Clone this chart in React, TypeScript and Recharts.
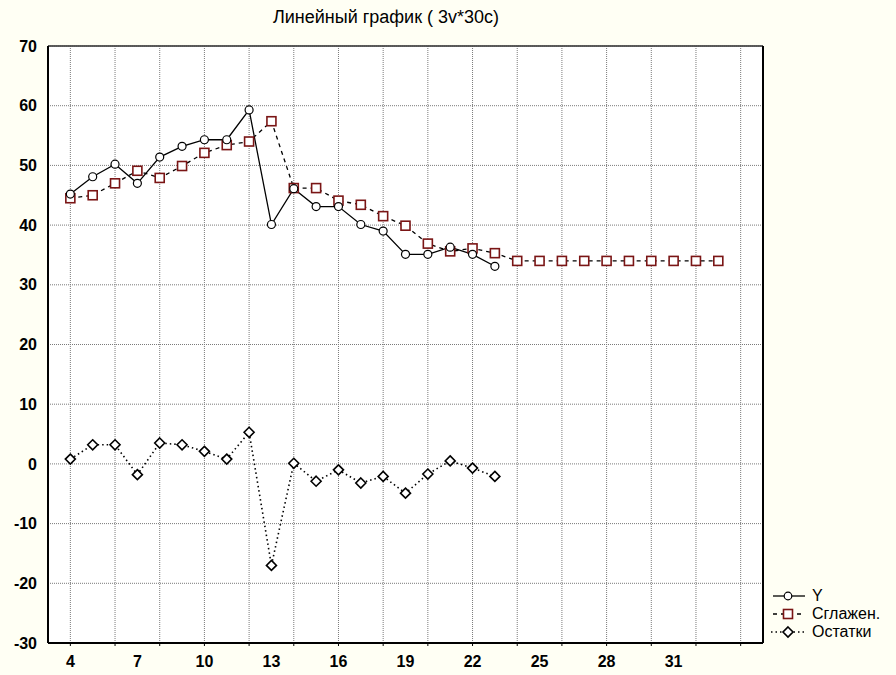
import React from "react"
import {
  LineChart,
  Line,
  XAxis,
  YAxis,
  CartesianGrid,
  ReferenceArea,
  ReferenceLine,
  Legend,
} from "recharts"

// case numbers on the x axis
const cases = [
  4, 5, 6, 7, 8, 9, 10, 11, 12, 13, 14, 15, 16, 17, 18, 19, 20, 21, 22, 23,
  24, 25, 26, 27, 28, 29, 30, 31, 32, 33,
]

// Y
const yValues = [
  45.2, 48.1, 50.2, 47.0, 51.4, 53.2, 54.3, 54.3, 59.3, 40.1, 46.1, 43.1, 43.1,
  40.1, 39.0, 35.1, 35.1, 36.3, 35.1, 33.1,
]

// Сглажен.
const smoothed = [
  44.5, 45.0, 47.0, 49.1, 47.9, 49.9, 52.1, 53.4, 54.0, 57.4, 46.2, 46.2, 44.1,
  43.4, 41.5, 39.9, 36.9, 35.6, 36.1, 35.3, 34.0, 34.0, 34.0, 34.0, 34.0, 34.0,
  34.0, 34.0, 34.0, 34.0,
]

// Остатки
const residuals = [
  0.8, 3.2, 3.2, -1.8, 3.5, 3.2, 2.1, 0.8, 5.3, -17.0, 0.1, -2.9, -1.0, -3.2,
  -2.1, -4.9, -1.7, 0.5, -0.7, -2.1,
]

const xGridTicks = [4, 6, 8, 10, 12, 14, 16, 18, 20, 22, 24, 26, 28, 30, 32, 34]
const xLabelTicks = [4, 7, 10, 13, 16, 19, 22, 25, 28, 31]
const yTicks = [-30, -20, -10, 0, 10, 20, 30, 40, 50, 60, 70]

const chartData = cases.map((c, i) => ({
  x: c,
  y: yValues[i] ?? null,
  s: smoothed[i] ?? null,
  r: residuals[i] ?? null,
}))

const FONT = "'Liberation Sans', Arial, sans-serif"
const SQUARE_RED = "#7a1515"

const CircleDot = (props: any) => {
  const { cx, cy, value } = props
  if (value == null || cx == null || cy == null) return <g />
  return <circle cx={cx} cy={cy} r={4} fill="#fff" stroke="#000" strokeWidth={1.2} />
}

const SquareDot = (props: any) => {
  const { cx, cy, value } = props
  if (value == null || cx == null || cy == null) return <g />
  return (
    <rect
      x={cx - 4.5}
      y={cy - 4.5}
      width={9}
      height={9}
      fill="#fff"
      stroke={SQUARE_RED}
      strokeWidth={1.6}
    />
  )
}

const DiamondDot = (props: any) => {
  const { cx, cy, value } = props
  if (value == null || cx == null || cy == null) return <g />
  const d = 5
  return (
    <polygon
      points={`${cx},${cy - d} ${cx + d},${cy} ${cx},${cy + d} ${cx - d},${cy}`}
      fill="#fff"
      stroke="#000"
      strokeWidth={1.6}
    />
  )
}

const legendItems = [
  { name: "Y", kind: "y" },
  { name: "Сглажен.", kind: "s" },
  { name: "Остатки", kind: "r" },
]

const LegendBox = () => (
  <div style={{ fontFamily: FONT, fontSize: 16, color: "#000" }}>
    {legendItems.map((it) => (
      <div key={it.kind} style={{ display: "flex", alignItems: "center", height: 18 }}>
        <svg width={38} height={18}>
          {it.kind === "y" && (
            <>
              <line x1={4} y1={9} x2={36} y2={9} stroke="#000" strokeWidth={1.3} />
              <circle cx={19} cy={9} r={3.8} fill="#fff" stroke="#000" strokeWidth={1.2} />
            </>
          )}
          {it.kind === "s" && (
            <>
              <line x1={4} y1={9} x2={36} y2={9} stroke="#000" strokeWidth={1.3} strokeDasharray="4 4" />
              <rect x={14.5} y={4.5} width={9} height={9} fill="#fff" stroke={SQUARE_RED} strokeWidth={1.6} />
            </>
          )}
          {it.kind === "r" && (
            <>
              <line x1={2} y1={9} x2={36} y2={9} stroke="#000" strokeWidth={1.5} strokeDasharray="1.5 3" />
              <polygon points="19,4 24,9 19,14 14,9" fill="#fff" stroke="#000" strokeWidth={1.6} />
            </>
          )}
        </svg>
        <span style={{ marginLeft: 5 }}>{it.name}</span>
      </div>
    ))}
  </div>
)

const App = () => {
  return (
    <div
      style={{
        position: "absolute",
        left: 0,
        top: 0,
        width: 896,
        height: 675,
        background: "#fffff4",
      }}
    >
      <div
        style={{
          position: "absolute",
          left: 0,
          top: 7,
          width: 772,
          textAlign: "center",
          fontFamily: FONT,
          fontSize: 18,
          color: "#000",
        }}
      >
        Линейный график ( 3v*30c)
      </div>
      <LineChart
        width={896}
        height={675}
        data={chartData}
        margin={{ top: 46, right: 133, left: 0, bottom: 0 }}
      >
        {/* Grid Lines */}
        <CartesianGrid stroke="#7a7a7a" strokeDasharray="1 1" fill="#fff" />
        {/* Axes */}
        <XAxis
          dataKey="x"
          type="number"
          domain={[3, 35]}
          ticks={xGridTicks}
          height={1}
          axisLine={{ stroke: "#000", strokeWidth: 2 }}
          tickLine={{ stroke: "#000" }}
          tickSize={3}
          tick={() => <g />}
          allowDataOverflow
        />
        <XAxis
          xAxisId="labels"
          dataKey="x"
          type="number"
          domain={[3, 35]}
          ticks={xLabelTicks}
          height={31}
          axisLine={false}
          tickLine={false}
          tickSize={0}
          tickMargin={12}
          tick={{ fill: "#000", fontSize: 16, fontWeight: "bold", fontFamily: FONT }}
          allowDataOverflow
        />
        <YAxis
          type="number"
          domain={[-30, 70]}
          ticks={yTicks}
          width={48}
          axisLine={{ stroke: "#000", strokeWidth: 2 }}
          tickLine={false}
          tickSize={0}
          tickMargin={11}
          tick={{ fill: "#000", fontSize: 16, fontWeight: "bold", fontFamily: FONT }}
          allowDataOverflow
        />
        {/* plot frame */}
        <ReferenceArea x1={3} x2={35} y1={-30} y2={70} fill="none" stroke="#000" strokeWidth={1} />
        <ReferenceLine y={70} stroke="#555" strokeWidth={1.5} />
        <ReferenceLine x={35} stroke="#000" strokeWidth={2} />
        {/* Lines */}
        <Line
          dataKey="s"
          name="Сглажен."
          stroke="#000"
          strokeWidth={1.3}
          strokeDasharray="4 4"
          dot={<SquareDot />}
          activeDot={false}
          isAnimationActive={false}
        />
        <Line
          dataKey="y"
          name="Y"
          stroke="#000"
          strokeWidth={1.3}
          dot={<CircleDot />}
          activeDot={false}
          isAnimationActive={false}
        />
        <Line
          dataKey="r"
          name="Остатки"
          stroke="#000"
          strokeWidth={1.6}
          strokeDasharray="1.5 3"
          dot={<DiamondDot />}
          activeDot={false}
          isAnimationActive={false}
        />
        <Legend
          layout="horizontal"
          verticalAlign="middle"
          align="center"
          content={<LegendBox />}
          wrapperStyle={{ position: "absolute", left: 769, top: 587, width: 127 }}
        />
      </LineChart>
    </div>
  )
}

export default App
